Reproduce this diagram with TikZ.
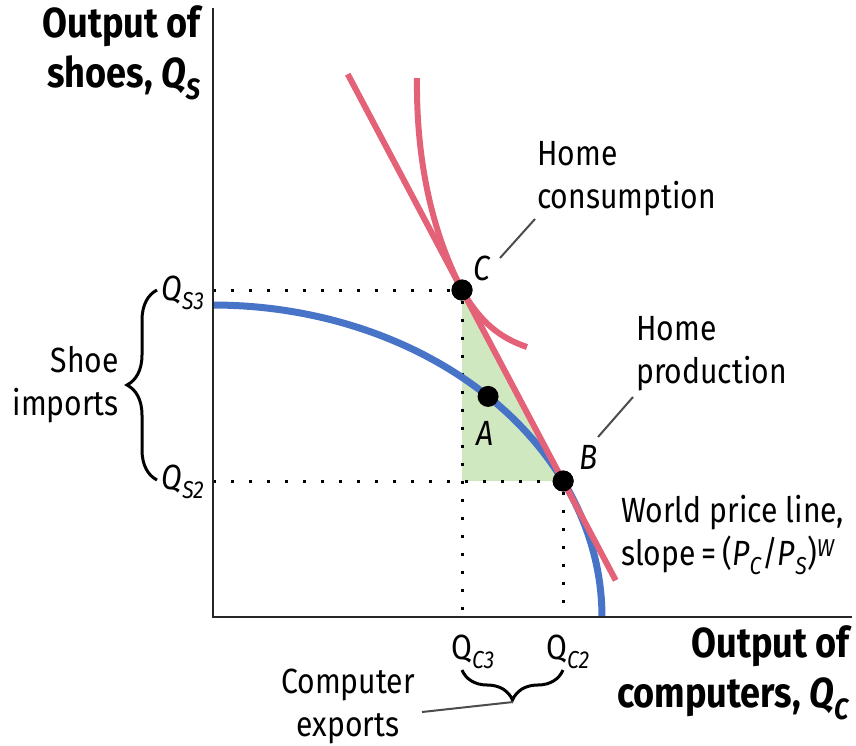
\documentclass[tikz,border=0pt]{standalone}
\usepackage{fontspec}
\setmainfont{Fira Sans}[FakeStretch=0.86]
\usetikzlibrary{calc,decorations.pathreplacing}
\definecolor{pricered}{RGB}{228,98,120}
\definecolor{ppfblue}{RGB}{72,116,200}
\definecolor{tradegreen}{RGB}{208,232,192}
\newcommand{\lblfont}{\fontsize{35}{43}\selectfont}
\newcommand{\ttlfont}{\fontsize{42}{50}\selectfont\bfseries}
\newcommand{\qsub}[2]{\textit{#1}\textsubscript{\textit{#2}}}

\begin{document}
\begin{tikzpicture}[
    x=1pt, y=-1pt,
    every node/.style={font=\lblfont, inner sep=0},
    axis/.style={line width=2.5pt, black!85},
    guide/.style={line width=3pt, dash pattern=on 3pt off 15pt},
    dot/.style={circle, fill=black, minimum size=21pt},
    leader/.style={line width=2pt, black!70},
    bracket/.style={line width=3pt, decorate, decoration={brace, amplitude=30pt}},
    title/.style={font=\ttlfont, align=right}
  ]
  \useasboundingbox (0,0) rectangle (856,745);

  \coordinate (O) at (213,617);
  \coordinate (ytop) at (213,8);
  \coordinate (xend) at (852,617);
  \node[dot] (C) at (462,290) {};
  \node[dot] (A) at ({213+389*cos(45)},{617-312*sin(45)}) {};
  \node[dot] (B) at ({213+389*0.9},{617-312*0.4359}) {};
  \coordinate (CB) at (C |- B);

  \fill[tradegreen] (C.center) -- (CB) -- (B.center) -- cycle;
  \draw[guide] (O |- C) -- (C);
  \draw[guide] (O |- B) -- (B);
  \draw[guide] (C) -- (C |- O);
  \draw[guide] (B) -- (B |- O);

  \draw[ppfblue, line width=7pt] plot[domain=0:90, samples=80]
    ({213+389*cos(\x)},{617-312*sin(\x)});
  \draw[pricered, line width=6pt] ($(C)!-1.13!(B)$) -- ($(C)!1.52!(B)$);
  \draw[pricered, line width=6pt] (417,78) .. controls (416,160) and (432,232) .. (C.center)
    .. controls (480,322) and (500,338) .. (527,347);

  \draw[axis] (ytop) -- (O) -- (xend);

  \node[dot] at (C) {};
  \node[dot] at (A) {};
  \node[dot] at (B) {};

  \node (labC) at (482,268) {\textit{C}};
  \node (labA) at (485,433) {\textit{A}};
  \node (labB) at (589,457) {\textit{B}};

  \node[title, anchor=east] (ytitle) at (201,53) {Output of\\shoes, \qsub{Q}{S}};
  \node[title, anchor=east] (xtitle) at (850,673) {Output of\\computers, \qsub{Q}{C}};

  \node (QS3) at (183,293) {\qsub{Q}{S3}};
  \node (QS2) at (183,482) {\qsub{Q}{S2}};
  \node (QC3) at (473,652) {Q\textsubscript{\textit{C3}}};
  \node (QC2) at (568,652) {Q\textsubscript{\textit{C2}}};

  \draw[bracket] (157,480) -- (157,290) coordinate[pos=0.5] (sbrace);
  \node[align=right, anchor=east] (shoeimp) at (119,385) {Shoe\\imports};
  \draw[bracket] (563,670) -- (462,670);
  \coordinate (cbtip) at (513,702);
  \node[align=center] (compexp) at (348,706) {Computer\\exports};
  \coordinate (cetail) at (422,712);
  \draw[leader] (cbtip) -- (cetail);

  \node[align=left, anchor=west] (homecons) at (537,179) {Home\\consumption};
  \coordinate (hcfoot) at (500,258);
  \coordinate (hchead) at (535,219);
  \draw[leader] (hcfoot) -- (hchead);

  \node[align=left, anchor=west] (homeprod) at (636,354) {Home\\production};
  \coordinate (hpfoot) at (598,437);
  \coordinate (hphead) at (633,397);
  \draw[leader] (hpfoot) -- (hphead);

  \node[align=left, anchor=west] (worldp) at (621,535)
    {World price line,\\slope\,=\,(\qsub{P}{C}/\qsub{P}{S})\textsuperscript{\textit{W}}};
\end{tikzpicture}
\end{document}
